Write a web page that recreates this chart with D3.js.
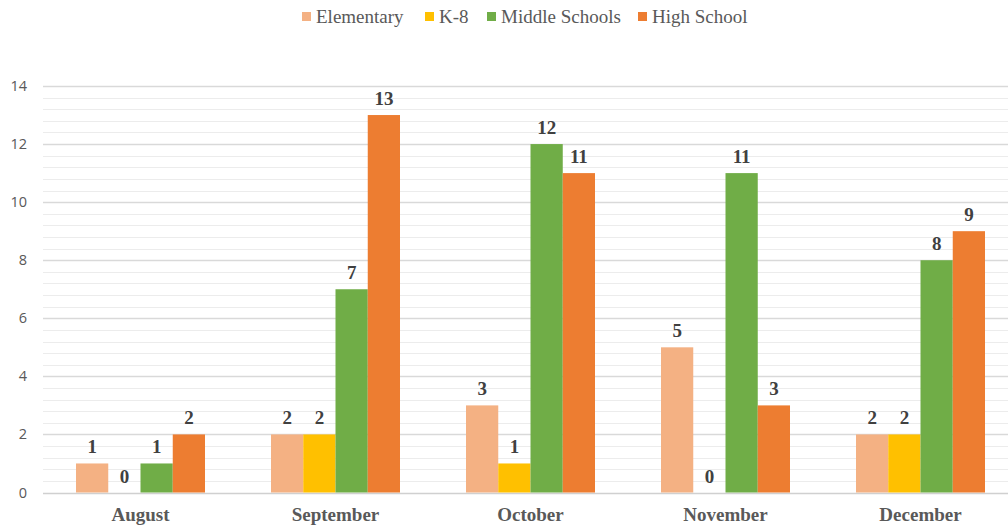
<!DOCTYPE html>
<html>
<head>
<meta charset="utf-8">
<script src="https://cdn.jsdelivr.net/npm/d3@7"></script>
<style>
  body { margin: 0; background: #fff; }
  svg { display: block; }
</style>
</head>
<body>
<div id="vis"></div>
<script>
var months = ["August", "September", "October", "November", "December"];
var seriesNames = ["Elementary", "K-8", "Middle Schools", "High School"];
var seriesColors = ["#F4B183", "#FFC000", "#70AD47", "#ED7D31"];
var elementary = [1, 2, 3, 5, 2];
var k8 = [0, 2, 1, 0, 2];
var middle = [1, 7, 12, 11, 8];
var high = [2, 13, 11, 3, 9];
var yTicks = [0, 2, 4, 6, 8, 10, 12, 14];

var allSeries = [elementary, k8, middle, high];

var width = 1008, height = 527;
var plotLeft = 43, plotRight = 1018, plotTop = 86, plotBottom = 492.5;

var svg = d3.select("#vis")
    .append("svg")
    .attr("width", width)
    .attr("height", height);

var x = d3.scaleBand()
    .domain(months)
    .range([plotLeft, plotRight])
    .paddingInner(0)
    .paddingOuter(0);

var y = d3.scaleLinear()
    .domain([0, 14])
    .range([plotBottom, plotTop]);

var groupPad = 33;
var xs = d3.scaleBand()
    .domain(seriesNames)
    .range([groupPad, x.bandwidth() - groupPad]);

// minor gridlines every 0.4
var minor = d3.range(0, 14.001, 0.4);
svg.append("g")
  .selectAll("line")
    .data(minor)
    .enter()
    .append("line")
    .attr("x1", plotLeft)
    .attr("x2", plotRight)
    .attr("y1", function(d) { return Math.round(y(d)) + 0.5; })
    .attr("y2", function(d) { return Math.round(y(d)) + 0.5; })
    .attr("stroke", "#ececec")
    .attr("stroke-width", 1);

// major gridlines
svg.append("g")
  .selectAll("line")
    .data(yTicks)
    .enter()
    .append("line")
    .attr("x1", plotLeft)
    .attr("x2", plotRight)
    .attr("y1", function(d) { return Math.round(y(d)) + 0.5; })
    .attr("y2", function(d) { return Math.round(y(d)) + 0.5; })
    .attr("stroke", function(d) { return d === 0 ? "#d0d0d0" : "#d9d9d9"; })
    .attr("stroke-width", 1.3);

// y tick labels
svg.append("g")
  .selectAll("text")
    .data(yTicks)
    .enter()
    .append("text")
    .attr("x", 27)
    .attr("y", function(d) { return y(d) + 5; })
    .attr("text-anchor", "end")
    .attr("font-family", "'Open Sans', 'Liberation Sans', sans-serif")
    .attr("font-size", "14.5px")
    .attr("fill", "#595959")
    .text(function(d) { return d; });

// bars
var groups = svg.append("g")
  .selectAll("g")
    .data(months)
    .enter()
    .append("g")
    .attr("transform", function(d) { return "translate(" + x(d) + ",0)"; });

groups.selectAll("rect")
    .data(function(m, i) {
      return seriesNames.map(function(s, j) { return {s: s, j: j, v: allSeries[j][i]}; });
    })
    .enter()
    .append("rect")
    .attr("x", function(d) { return xs(d.s); })
    .attr("width", xs.bandwidth())
    .attr("y", function(d) { return y(d.v); })
    .attr("height", function(d) { return y(0) - y(d.v); })
    .attr("fill", function(d) { return seriesColors[d.j]; });

groups.selectAll("text.val")
    .data(function(m, i) {
      return seriesNames.map(function(s, j) { return {s: s, j: j, v: allSeries[j][i]}; });
    })
    .enter()
    .append("text")
    .attr("class", "val")
    .attr("x", function(d) { return xs(d.s) + xs.bandwidth() / 2; })
    .attr("y", function(d) { return y(d.v) - 10; })
    .attr("text-anchor", "middle")
    .attr("font-family", "'Liberation Serif', serif")
    .attr("font-weight", "bold")
    .attr("font-size", "19px")
    .attr("fill", "#404040")
    .text(function(d) { return d.v; });

// category labels
svg.append("g")
  .selectAll("text")
    .data(months)
    .enter()
    .append("text")
    .attr("x", function(d) { return x(d) + x.bandwidth() / 2; })
    .attr("y", 521)
    .attr("text-anchor", "middle")
    .attr("font-family", "'Liberation Serif', serif")
    .attr("font-weight", "bold")
    .attr("font-size", "19px")
    .attr("fill", "#595959")
    .text(function(d) { return d; });

// legend
var legendX = [302, 425, 487, 638];
var legend = svg.append("g")
  .selectAll("g")
    .data(seriesNames)
    .enter()
    .append("g")
    .attr("transform", function(d, i) { return "translate(" + legendX[i] + ",12)"; });

legend.append("rect")
    .attr("width", 9)
    .attr("height", 9)
    .attr("fill", function(d, i) { return seriesColors[i]; });

legend.append("text")
    .attr("x", 14)
    .attr("y", 10.5)
    .attr("font-family", "'Liberation Serif', serif")
    .attr("font-size", "19px")
    .attr("fill", "#595959")
    .text(function(d) { return d; });
</script>
</body>
</html>
